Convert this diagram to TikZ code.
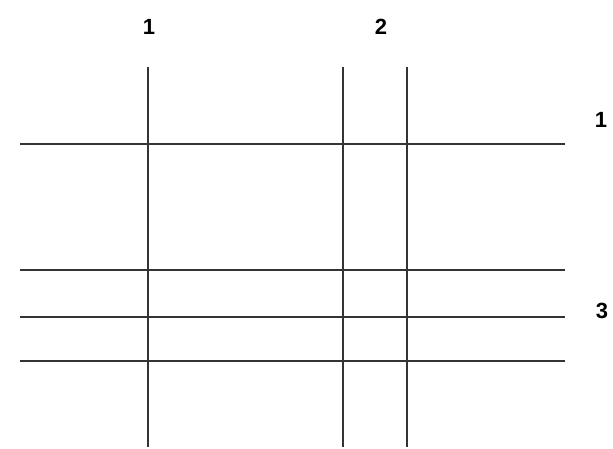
\documentclass[tikz,border=0pt]{standalone}
\usepackage{fontspec}
\setmainfont{Liberation Sans}
\begin{document}
\begin{tikzpicture}[x=1pt,y=-1pt,
  gridline/.style={draw=black!80,line width=1.3pt},
  lbl/.style={font=\fontsize{22}{25}\selectfont\bfseries,inner sep=0pt}]
\useasboundingbox (0,0) rectangle (613,449);

\draw[gridline] (148,67) -- (148,447);
\draw[gridline] (343,67) -- (343,447);
\draw[gridline] (407,67) -- (407,447);

\draw[gridline] (20,144) -- (565,144);
\draw[gridline] (20,270) -- (565,270);
\draw[gridline] (20,317) -- (565,317);
\draw[gridline] (20,361) -- (565,361);

\node[lbl] (col1) at (149,27) {1};
\node[lbl] (col2) at (381,27) {2};
\node[lbl] (row1) at (601,120) {1};
\node[lbl] (row3) at (602,311) {3};
\end{tikzpicture}
\end{document}
